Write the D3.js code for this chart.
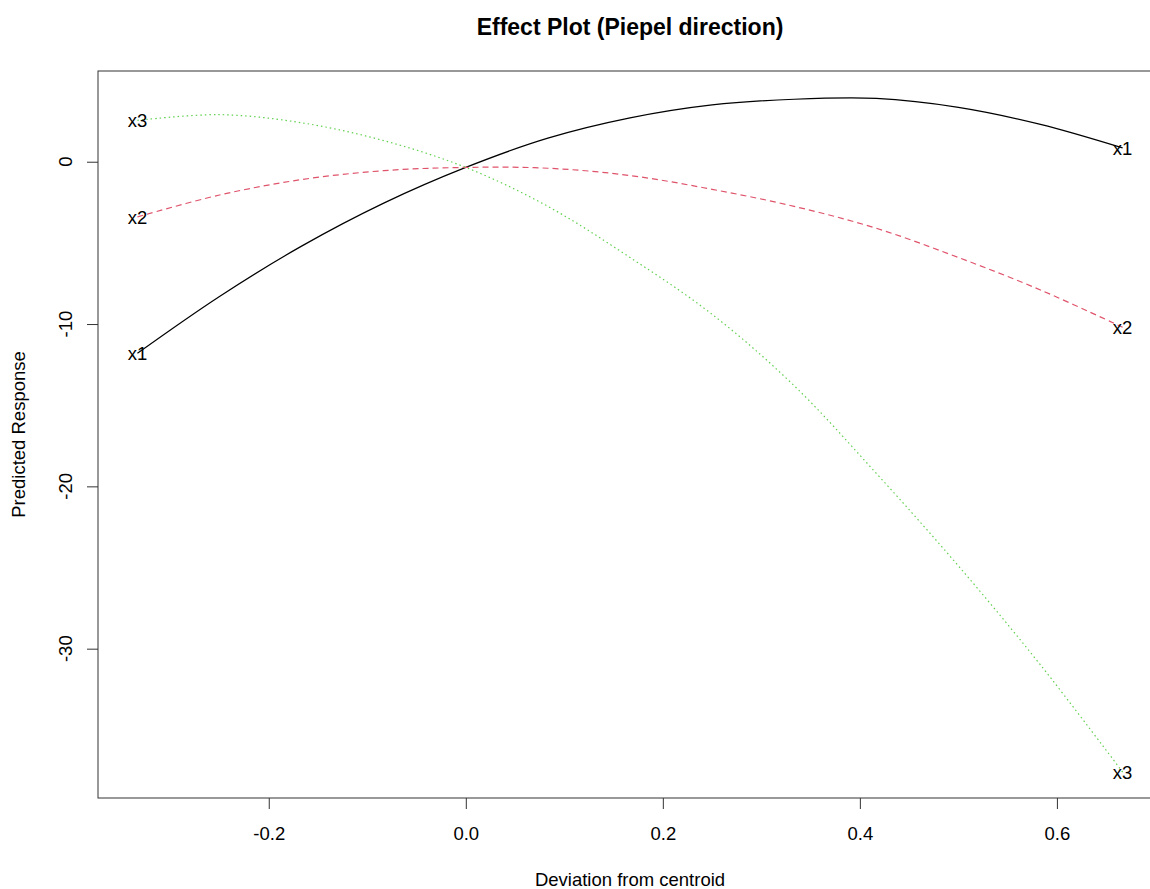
<!DOCTYPE html>
<html>
<head>
<meta charset="utf-8">
<script src="https://cdn.jsdelivr.net/npm/d3@7/dist/d3.min.js"></script>
<style>
  html, body { margin: 0; padding: 0; background: #fff; }
  svg { display: block; font-family: "Liberation Sans", Arial, sans-serif; }
</style>
</head>
<body>
<svg id="chart" width="1150" height="889"></svg>
<script>
// Deviation from centroid (x positions of sampled points)
const deviation = [-0.3333, -0.25, -0.1667, -0.0833, 0, 0.0833, 0.1667, 0.25, 0.3333, 0.4167, 0.5, 0.5833, 0.6667];
// Predicted response for each component direction
const x1Values = [-11.8, -8.3, -5.2, -2.55, -0.35, 1.45, 2.7, 3.5, 3.85, 3.9, 3.35, 2.3, 0.85];
const x2Values = [-3.4, -2.05, -1.1, -0.55, -0.35, -0.4, -0.85, -1.7, -2.75, -4.1, -5.9, -7.9, -10.2];
const x3Values = [2.55, 2.9, 2.4, 1.3, -0.35, -2.75, -5.9, -9.4, -13.8, -19.2, -24.9, -31.0, -37.6];
const seriesNames = ["x1", "x2", "x3"];
const seriesColors = ["#000000", "#DF536B", "#61D04F"];
const seriesDash = [null, "6,4", "1.5,3"];
const xTicks = [-0.2, 0.0, 0.2, 0.4, 0.6];
const yTicks = [0, -10, -20, -30];
const titleText = "Effect Plot (Piepel direction)";
const xLabel = "Deviation from centroid";
const yLabel = "Predicted Response";

(function () {
const seriesValues = [x1Values, x2Values, x3Values];

const svg = d3.select("#chart");
const mLeft = 98, mRight = 1162, mTop = 71, mBottom = 798;
const fs = 18.5;

const x = d3.scaleLinear().domain([-0.37333, 0.70667]).range([mLeft, mRight]);
const y = d3.scaleLinear().domain([-39.2, 5.59]).range([mBottom, mTop]);

const axisColor = "#333";

// Series lines
const line = d3.line()
  .x(d => x(d[0]))
  .y(d => y(d[1]))
  .curve(d3.curveCatmullRom.alpha(0.5));

seriesValues.forEach((vals, i) => {
  const pts = deviation.map((t, k) => [t, vals[k]]);
  svg.append("path")
    .datum(pts)
    .attr("d", line)
    .attr("fill", "none")
    .attr("stroke", seriesColors[i])
    .attr("stroke-width", 1.2)
    .attr("stroke-dasharray", seriesDash[i]);
});

// End labels
seriesValues.forEach((vals, i) => {
  const n = vals.length;
  [[deviation[0], vals[0]], [deviation[n - 1], vals[n - 1]]].forEach(p => {
    svg.append("text")
      .attr("x", x(p[0]))
      .attr("y", y(p[1]))
      .attr("dy", "0.36em")
      .attr("text-anchor", "middle")
      .attr("font-size", fs)
      .attr("fill", "#000")
      .text(seriesNames[i]);
  });
});

// Box
svg.append("rect")
  .attr("x", mLeft).attr("y", mTop)
  .attr("width", mRight - mLeft).attr("height", mBottom - mTop)
  .attr("fill", "none")
  .attr("stroke", axisColor)
  .attr("stroke-width", 1);

// X axis
const xAxis = d3.axisBottom(x).tickValues(xTicks).tickSize(11).tickPadding(18);
const gx = svg.append("g").attr("transform", `translate(0,${mBottom})`).call(xAxis);
gx.select(".domain").remove();
gx.selectAll(".tick line").attr("stroke", axisColor);
gx.selectAll(".tick text").attr("font-size", fs).attr("fill", "#000")
  .attr("font-family", "Liberation Sans, Arial, sans-serif")
  .text(d => d3.format(".1f")(d).replace("\u2212", "-"));

// Y axis
const yAxis = d3.axisLeft(y).tickValues(yTicks).tickSize(11);
const gy = svg.append("g").attr("transform", `translate(${mLeft},0)`).call(yAxis);
gy.select(".domain").remove();
gy.selectAll(".tick line").attr("stroke", axisColor);
gy.selectAll(".tick text").remove();
yTicks.forEach(v => {
  svg.append("text")
    .attr("transform", `translate(${mLeft - 26},${y(v)}) rotate(-90)`)
    .attr("text-anchor", "middle")
    .attr("font-size", fs)
    .attr("fill", "#000")
    .text(String(v));
});

// Title
svg.append("text")
  .attr("x", (mLeft + mRight) / 2)
  .attr("y", 35)
  .attr("text-anchor", "middle")
  .attr("font-size", 23)
  .attr("font-weight", "bold")
  .attr("fill", "#000")
  .text(titleText);

// X label
svg.append("text")
  .attr("x", (mLeft + mRight) / 2)
  .attr("y", 886)
  .attr("text-anchor", "middle")
  .attr("font-size", fs)
  .attr("fill", "#000")
  .text(xLabel);

// Y label
svg.append("text")
  .attr("transform", `translate(25,${(mTop + mBottom) / 2}) rotate(-90)`)
  .attr("text-anchor", "middle")
  .attr("font-size", fs)
  .attr("fill", "#000")
  .text(yLabel);
})();
</script>
</body>
</html>
